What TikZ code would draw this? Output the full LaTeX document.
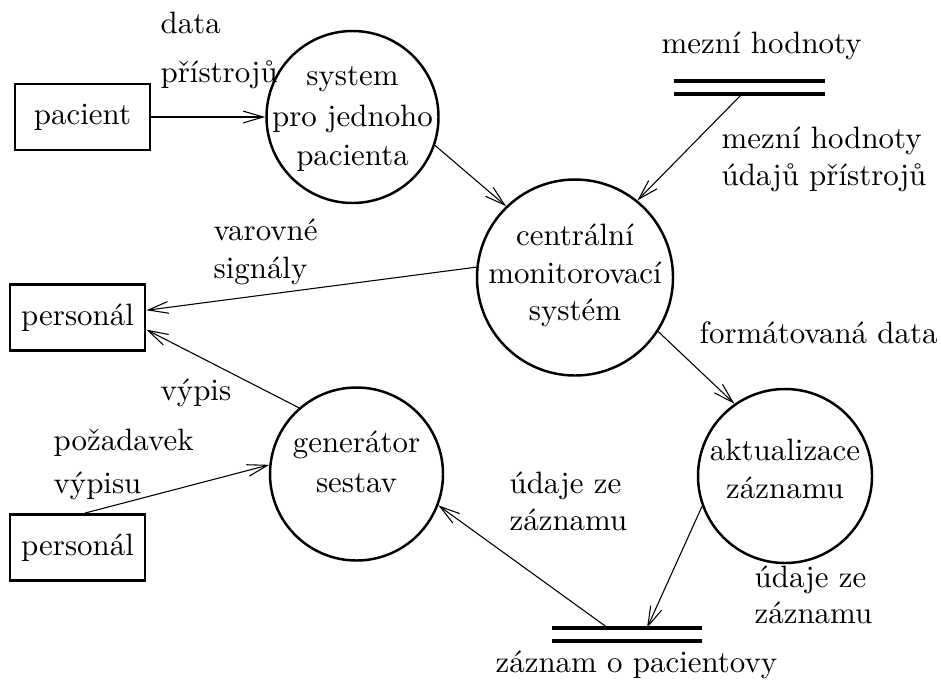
\documentclass[tikz,border=0pt]{standalone}
\usepackage{fontspec}
\usetikzlibrary{arrows.meta}
\def\px{0.3236pt}
\tikzset{
  proc/.style={circle, draw, line width=0.8pt, minimum size={#1*\px}, inner sep=0pt},
  ext/.style={rectangle, draw, line width=0.9pt, minimum width={135*\px}, minimum height={66*\px}, inner sep=0pt},
  storeline/.style={line width=1.1pt},
  flow/.style={line width=0.35pt, -{Straight Barb[length=6.5pt,width=3.8pt,line width=0.35pt]}},
  lbl/.style={inner sep=0pt, anchor=base west},
  ctxt/.style={inner sep=0pt, anchor=base}
}
\begin{document}
\begin{tikzpicture}[x=\px, y=-\px]
\useasboundingbox (0,0) rectangle (941,679);

% external entities
\node[ext] (pac) at (82.5,117) {pacient};
\node[ext] (per1) at (77.5,317.5) {personál};
\node[ext] (per2) at (77.5,547.5) {personál};

% processes
\node[proc=172] (sys1) at (352.5,117) {};
\node[ctxt] (sys1a) at (352.5,85) {system};
\node[ctxt] (sys1b) at (352.5,126) {pro jednoho};
\node[ctxt] (sys1c) at (352.5,165) {pacienta};

\node[proc=196] (cms) at (575,277.5) {};
\node[ctxt] (cmsa) at (575,245) {centrální};
\node[ctxt] (cmsb) at (575,283) {monitorovací};
\node[ctxt] (cmsc) at (575,320) {systém};

\node[proc=173] (gen) at (356.5,474) {};
\node[ctxt] (gena) at (356.5,452) {generátor};
\node[ctxt] (genb) at (356.5,492) {sestav};

\node[proc=174] (akt) at (785,476) {};
\node[ctxt] (akta) at (785,460) {aktualizace};
\node[ctxt] (aktb) at (785,498) {záznamu};

% data stores
\coordinate (s1tl) at (674,81);  \coordinate (s1tr) at (825,81);
\coordinate (s1bl) at (674,94);  \coordinate (s1br) at (825,94);
\draw[storeline] (s1tl) -- (s1tr);
\draw[storeline] (s1bl) -- (s1br);
\node[lbl] (s1lbl) at (661,53) {mezní hodnoty};
\coordinate (s1out) at (742,94);

\coordinate (s2tl) at (552,628);  \coordinate (s2tr) at (702,628);
\coordinate (s2bl) at (552,641);  \coordinate (s2br) at (702,641);
\draw[storeline] (s2tl) -- (s2tr);
\draw[storeline] (s2bl) -- (s2br);
\node[lbl] (s2lbl) at (495,672) {záznam o pacientovy};
\coordinate (s2in) at (647,628);
\coordinate (s2out) at (608,628);

% data flows
\draw[flow] (pac.east) -- (sys1.west);
\draw[flow] (sys1.-19) -- (cms.134);
\draw[flow] (s1out) -- (cms.51.5);
\draw[flow] (cms.174.5) -- (per1.6.3);
\draw[flow] (gen.131.6) -- (per1.-10.5);
\draw[flow] (per2.78) -- (gen.174);
\draw[flow] (cms.-33.8) -- (akt.125);
\draw[flow] (akt.200.7) -- (s2in);
\draw[flow] (s2out) -- (gen.-21);

% flow labels
\node[lbl] (l1a) at (160,33) {data};
\node[lbl] (l1b) at (160,82) {přístrojů};
\node[lbl] (l2a) at (721,148) {mezní hodnoty};
\node[lbl] (l2b) at (721,185) {údajů přístrojů};
\node[lbl] (l3a) at (213,240) {varovné};
\node[lbl] (l3b) at (213,278) {signály};
\node[lbl] (l4) at (160,400) {výpis};
\node[lbl] (l5a) at (53,450) {požadavek};
\node[lbl] (l5b) at (53,493) {výpisu};
\node[lbl] (l6) at (699,343) {formátovaná data};
\node[lbl] (l7a) at (509,493) {údaje ze};
\node[lbl] (l7b) at (509,530) {záznamu};
\node[lbl] (l8a) at (754,587) {údaje ze};
\node[lbl] (l8b) at (754,623) {záznamu};
\end{tikzpicture}
\end{document}
